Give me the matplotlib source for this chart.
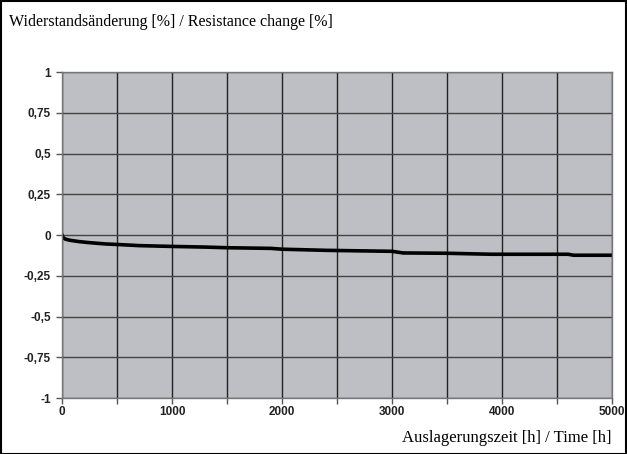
import numpy as np
import matplotlib.pyplot as plt
from matplotlib.patches import Rectangle

# Auslagerungszeit [h] / Widerstandsänderung [%]
time_h = [0, 10, 30, 70, 150, 250, 400, 500, 700, 1000, 1300, 1500, 1900, 2000,
          2400, 3000, 3100, 3500, 3900, 4600, 4650, 5000]
change_pct = [0, -0.015, -0.025, -0.032, -0.040, -0.047, -0.055, -0.058, -0.065,
              -0.070, -0.074, -0.078, -0.082, -0.087, -0.094, -0.100, -0.110,
              -0.112, -0.118, -0.118, -0.124, -0.124]

x_ticks = [0, 1000, 2000, 3000, 4000, 5000]
y_ticks = [1, 0.75, 0.5, 0.25, 0, -0.25, -0.5, -0.75, -1]
y_labels = ["1", "0,75", "0,5", "0,25", "0", "-0,25", "-0,5", "-0,75", "-1"]

fig = plt.figure(figsize=(6.27, 4.54), dpi=100)
ax = fig.add_axes([0.0989, 0.1233, 0.8772, 0.7181])
ax.set_facecolor("#bebfc4")

ax.plot(time_h, change_pct, color="black", lw=2.6, solid_joinstyle="miter")

ax.set_xlim(0, 5000)
ax.set_ylim(-1, 1)
ax.set_xticks(x_ticks)
ax.set_xticks(np.arange(0, 5001, 500), minor=True)
ax.set_yticks(y_ticks)
ax.set_yticklabels(y_labels)
for lab in ax.get_xticklabels() + ax.get_yticklabels():
    lab.set_family("Liberation Sans")
    lab.set_weight("bold")
    lab.set_fontsize(8.5)
    lab.set_color("#222222")

ax.grid(True, which="both", axis="x", color="#222222", lw=1.0)
ax.grid(True, which="major", axis="y", color="#444444", lw=1.0)
ax.tick_params(axis="y", length=4, width=1, color="#555555", pad=4)
ax.tick_params(axis="x", which="both", length=4, width=1, color="#555555", pad=2)
for s in ax.spines.values():
    s.set_color("#777777")
    s.set_linewidth(1)

fig.text(0.015, 0.952, "Widerstandsänderung [%] / Resistance change [%]",
         family="Liberation Serif", fontsize=11.5, va="center", ha="left")
fig.text(0.976, 0.035, "Auslagerungszeit [h] / Time [h]",
         family="Liberation Serif", fontsize=12, va="center", ha="right")

fig.patches.append(Rectangle((0.001, 0.001), 0.997, 0.997, transform=fig.transFigure,
                             fill=False, edgecolor="black", lw=1.5))

fig.savefig("out.png", dpi=100)
